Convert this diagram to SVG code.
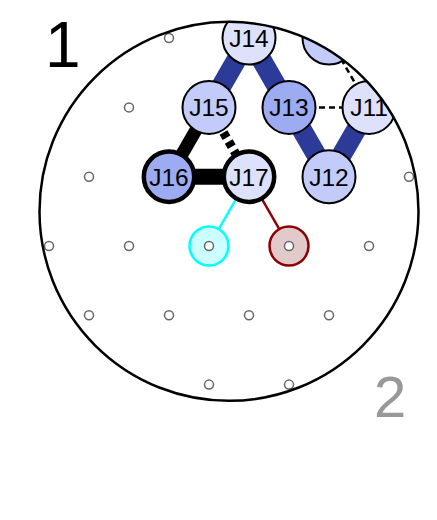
<svg xmlns="http://www.w3.org/2000/svg" width="437" height="520" viewBox="0 0 437 520">
<style>
.dot{fill:#fff;stroke:#666;stroke-width:1.5}
.nd{stroke:#000;stroke-width:2}
.thick{stroke-width:4.5}
.lbl{font-family:"Liberation Sans",Arial,sans-serif;font-size:24.5px;text-anchor:middle;fill:#000}
.c1{fill:#dde1fb}.c2{fill:#c3cbfa}.c3{fill:#9dabf2}
.blue{stroke:#2c3b98;stroke-width:20;fill:none}
</style>
<defs>
<clipPath id="head"><circle cx="229" cy="211.3" r="189.5"/></clipPath>
</defs>
<rect width="437" height="520" fill="#fff"/>
<g id="sensors">
<circle class="dot" cx="169" cy="38" r="4.5"/>
<circle class="dot" cx="249" cy="38" r="4.5"/>
<circle class="dot" cx="129" cy="107.4" r="4.5"/>
<circle class="dot" cx="209" cy="107.4" r="4.5"/>
<circle class="dot" cx="289" cy="107.4" r="4.5"/>
<circle class="dot" cx="369" cy="107.4" r="4.5"/>
<circle class="dot" cx="89" cy="176.7" r="4.5"/>
<circle class="dot" cx="409" cy="176.7" r="4.5"/>
<circle class="dot" cx="49" cy="246" r="4.5"/>
<circle class="dot" cx="129" cy="246" r="4.5"/>
<circle class="dot" cx="369" cy="246" r="4.5"/>
<circle class="dot" cx="89" cy="315.3" r="4.5"/>
<circle class="dot" cx="169" cy="315.3" r="4.5"/>
<circle class="dot" cx="249" cy="315.3" r="4.5"/>
<circle class="dot" cx="329" cy="315.3" r="4.5"/>
<circle class="dot" cx="209" cy="384.6" r="4.5"/>
<circle class="dot" cx="289" cy="384.6" r="4.5"/>
</g>
<g id="connectors" clip-path="url(#head)">
<line class="blue" x1="249" y1="38" x2="209" y2="107.4"/>
<line class="blue" x1="249" y1="38" x2="289" y2="107.4"/>
<line class="blue" x1="289" y1="107.4" x2="329" y2="176.7"/>
<line class="blue" x1="369" y1="107.4" x2="329" y2="176.7"/>
<line x1="289" y1="107.4" x2="369" y2="107.4" stroke="#000" stroke-width="2.5" stroke-dasharray="6,4"/>
<line x1="369" y1="107.4" x2="329" y2="38" stroke="#000" stroke-width="2.5" stroke-dasharray="6,4"/>
<line x1="209" y1="107.4" x2="169" y2="176.7" stroke="#000" stroke-width="13"/>
<line x1="169" y1="176.7" x2="249" y2="176.7" stroke="#000" stroke-width="16"/>
<line x1="209" y1="107.4" x2="249" y2="176.7" stroke="#000" stroke-width="9" stroke-dasharray="6,4.5" stroke-dashoffset="2.5"/>
<line x1="249" y1="176.7" x2="209" y2="246" stroke="#00ffff" stroke-width="2.5"/>
<line x1="249" y1="176.7" x2="289" y2="246" stroke="#8b0000" stroke-width="2.5"/>
</g>
<g id="mark-cyan">
<circle cx="209" cy="246" r="19.5" fill="#ccffff" stroke="#00ffff" stroke-width="2.5"/>
<circle class="dot" cx="209" cy="246" r="4.5"/>
</g>
<g id="mark-red">
<circle cx="289" cy="246" r="19.5" fill="#e2caca" stroke="#8b0000" stroke-width="2.5"/>
<circle class="dot" cx="289" cy="246" r="4.5"/>
</g>
<g clip-path="url(#head)">
<g id="J10"><circle class="nd c2" cx="329" cy="38" r="26.5"/></g>
<g id="J14"><circle class="nd c1" cx="249" cy="38" r="26.5"/><text class="lbl" x="249" y="46.8">J14</text></g>
<g id="J15"><circle class="nd c2" cx="209" cy="107.4" r="26.5"/><text class="lbl" x="209" y="116.2">J15</text></g>
<g id="J13"><circle class="nd c3" cx="289" cy="107.4" r="26.5"/><text class="lbl" x="289" y="116.2">J13</text></g>
<g id="J11"><circle class="nd c1" cx="369" cy="107.4" r="26.5"/><text class="lbl" x="369" y="116.2">J11</text></g>
<g id="J16"><circle class="nd thick c3" cx="169" cy="176.7" r="25.2"/><text class="lbl" x="169" y="185.5">J16</text></g>
<g id="J17"><circle class="nd thick c1" cx="249" cy="176.7" r="25.2"/><text class="lbl" x="249" y="185.5">J17</text></g>
<g id="J12"><circle class="nd c2" cx="329" cy="176.7" r="26.5"/><text class="lbl" x="329" y="185.5">J12</text></g>
</g>
<circle id="head-outline" cx="229" cy="211.3" r="189.5" fill="none" stroke="#000" stroke-width="2.5"/>
<text x="45" y="66.7" font-family="'Liberation Sans',Arial,sans-serif" font-size="64" fill="#000">1</text>
<text x="374" y="416.7" font-family="'Liberation Sans',Arial,sans-serif" font-size="58" fill="#999">2</text>
</svg>
